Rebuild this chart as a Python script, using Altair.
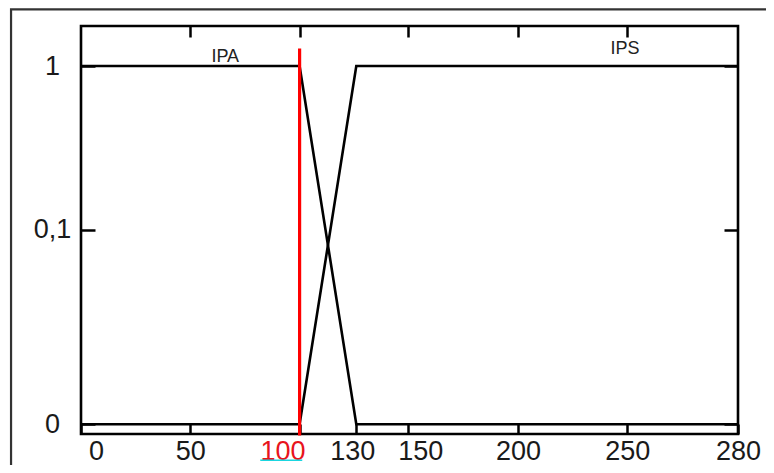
import altair as alt
import pandas as pd

# ---- data ----
series_names = ["IPA", "IPS"]
x_ipa = [0, 100, 130, 280]
y_ipa = [1, 1, 0, 0]
x_ips = [0, 100, 130, 280]
y_ips = [0, 0, 1, 1]

x_ticks = [0, 50, 100, 130, 150, 200, 250, 280]
x_tick_labels = ["0", "50", "100", "130", "150", "200", "250", "280"]
x_top_ticks = [50, 100, 150, 200, 250]
y_ticks = [0, 0.1, 1]
y_tick_labels = ["0", "0,1", "1"]

label_x = [66, 249]
label_y = [1.02, 1.064]

marker_x = [100]
marker_y = [-0.0057]
marker_y2 = [1.096]

underline_x = [82]
underline_x2 = [101.4]
underline_y = [-0.0185]

frame_x = [-32]
frame_x2 = [300]
frame_y = [1.312]
frame_y2 = [-0.05]

# ---- tables ----
rows = []
for name, xs, ys in [("IPA", x_ipa, y_ipa), ("IPS", x_ips, y_ips)]:
    for i, (xv, yv) in enumerate(zip(xs, ys)):
        rows.append({"series": name, "x": xv, "y": yv, "i": i})
lines_df = pd.DataFrame(rows)
labels_df = pd.DataFrame({"series": series_names, "x": label_x, "y": label_y})
marker_df = pd.DataFrame({"x": marker_x, "y": marker_y, "y2": marker_y2})
under_df = pd.DataFrame({"x": underline_x, "x2": underline_x2, "y": underline_y})
frame_df = pd.DataFrame({"x": frame_x, "x2": frame_x2, "y": frame_y, "y2": frame_y2})


def label_expr(values, labels):
    expr = "datum.label"
    for v, l in zip(reversed(values), reversed(labels)):
        expr = f"datum.value === {v} ? '{l}' : ({expr})"
    return expr


# hand-drawn (piecewise) axes of the original
x_scale = alt.Scale(domain=x_ticks,
                    range=[0, 109.3, 218.6, 275.3, 327.3, 437, 546.3, 657],
                    nice=False, zero=False)
y_scale = alt.Scale(domain=y_ticks, range=[398.3, 203.6, 40], nice=False, zero=False)

FONT = "Liberation Sans"
TXT = "#1a1a1a"
FS = 27

bottom_axis = alt.Axis(
    orient="bottom", values=x_ticks, labelExpr=label_expr(x_ticks, x_tick_labels),
    offset=-10, tickSize=10, tickWidth=2.5, tickColor="black", domain=False,
    grid=False, title=None, labelFont=FONT, labelFontSize=FS,
    labelPadding=4, labelFlush=False, labelOverlap=False,
    labelColor={"condition": {"test": "datum.value === 100", "value": "#e8141c"}, "value": TXT},
    labelOffset={"condition": [
        {"test": "datum.value === 0", "value": 15},
        {"test": "datum.value === 100", "value": -17},
        {"test": "datum.value === 130", "value": -4},
        {"test": "datum.value === 150", "value": 12},
    ], "value": 0},
)
left_axis = alt.Axis(
    orient="left", values=y_ticks, labelExpr=label_expr(y_ticks, y_tick_labels),
    offset=-14, tickSize=14, tickWidth=2.5, tickColor="black", domain=False,
    grid=False, title=None, labelFont=FONT, labelFontSize=FS, labelColor=TXT,
    labelAlign="center", labelBaseline="middle", labelPadding=29,
    labelFlush=False, labelOverlap=False,
)
top_axis = alt.Axis(
    orient="top", values=x_top_ticks, labels=False, offset=-11, tickSize=11,
    tickWidth=2.5, tickColor="black", domain=False, grid=False, title=None,
)
right_axis = alt.Axis(
    orient="right", values=y_ticks, labels=False, offset=-14, tickSize=14,
    tickWidth=2.5, tickColor="black", domain=False, grid=False, title=None,
)

lines = alt.Chart(lines_df).mark_line(color="black", strokeWidth=2.6).encode(
    x=alt.X("x:Q", scale=x_scale, axis=bottom_axis),
    y=alt.Y("y:Q", scale=y_scale, axis=left_axis),
    detail="series:N",
    order="i:Q",
)

marker = alt.Chart(marker_df).mark_rule(color="#ff0000", strokeWidth=3.2, clip=False).encode(
    x=alt.X("x:Q", scale=x_scale, axis=top_axis),
    y=alt.Y("y:Q", scale=y_scale, axis=right_axis),
    y2="y2:Q",
)

texts = alt.Chart(labels_df).mark_text(
    font=FONT, fontSize=18, color="#222222", align="center", baseline="alphabetic"
).encode(
    x=alt.X("x:Q", scale=x_scale, axis=None),
    y=alt.Y("y:Q", scale=y_scale, axis=None),
    text="series:N",
)

underline = alt.Chart(under_df).mark_rule(color="#1ad6e0", strokeWidth=1.6, clip=False).encode(
    x=alt.X("x:Q", scale=x_scale, axis=None),
    x2="x2:Q",
    y=alt.Y("y:Q", scale=y_scale, axis=None),
)

frame = alt.Chart(frame_df).mark_rect(
    fillOpacity=0, stroke="#333333", strokeWidth=2.2, clip=False
).encode(
    x=alt.X("x:Q", scale=x_scale, axis=None),
    x2="x2:Q",
    y=alt.Y("y:Q", scale=y_scale, axis=None),
    y2="y2:Q",
)

chart = alt.layer(lines, marker, texts, underline, frame).resolve_scale(
    x="shared", y="shared"
).resolve_axis(
    x="independent", y="independent"
).properties(
    width=657, height=408,
    autosize=alt.AutoSizeParams(type="none"),
    padding={"left": 73, "top": 18, "right": 28, "bottom": 31},
    background="white",
).configure_view(
    stroke="black", strokeWidth=2.6
)

chart.save("out.html", embed_options={"renderer": "svg", "actions": False})
